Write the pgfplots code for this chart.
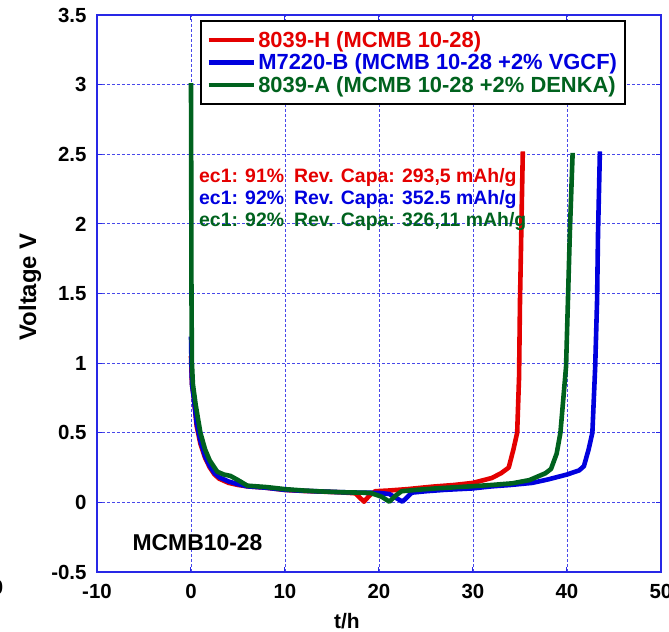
\documentclass[border=0pt]{standalone}
\usepackage{pgfplots}
\pgfplotsset{compat=1.18}
\usepackage{fontspec}
\setmainfont{Liberation Sans}
\definecolor{cred}{RGB}{228,0,0}
\definecolor{cblue}{RGB}{0,0,222}
\definecolor{cgreen}{RGB}{0,98,30}
\definecolor{gridblue}{RGB}{40,40,230}
\begin{document}
\begin{tikzpicture}
\begin{axis}[
  at={(0,0)}, anchor=south west,
  scale only axis, width=564bp, height=557bp,
  xmin=-10, xmax=50, ymin=-0.5, ymax=3.5,
  xtick={-10,0,...,50}, ytick={-0.5,0,...,3.5},
  grid=major,
  major grid style={gridblue!85, dash pattern=on 3bp off 2bp, line width=0.9bp},
  axis line style={gridblue, line width=1.6bp},
  tick style={gridblue, line width=1bp},
  major tick length=5bp,
  /pgf/number format/assume math mode=true,
  ticklabel style={font=\fontsize{20.5}{24}\selectfont\bfseries},
  yticklabel style={xshift=-7bp},
  xticklabel style={yshift=-9bp},
  xlabel={t/h}, ylabel={Voltage V},
  xlabel style={at={(axis description cs:0.443,-0.088)}, anchor=center, font=\fontsize{21}{24}\selectfont\bfseries},
  ylabel style={at={(axis description cs:-0.119,0.512)}, anchor=center, rotate=0, font=\fontsize{24}{28}\selectfont\bfseries},
  legend style={at={(axis description cs:0.183,0.991)}, anchor=north west, draw=black, line width=2bp,
     font=\fontsize{22}{26}\selectfont\bfseries, inner xsep=5bp, inner ysep=8bp,
     nodes={inner sep=2.5bp}},
  legend cell align=left,
  legend image code/.code={\draw[#1] (0bp,0bp) -- (45bp,0bp);},
]
\addplot[cred, line width=4.6bp, line join=round] coordinates {
(0,1.05)(0.05,0.95)(0.1,0.85)(0.3,0.75)(0.6,0.55)(1.0,0.42)(1.5,0.32)(2.0,0.25)(2.5,0.2)(3,0.17)(4,0.14)(5,0.125)(6,0.115)(8,0.105)(10,0.089)(12,0.082)(14,0.077)(16,0.072)(17.5,0.065)(18.4,0.005)(19.0,0.05)(19.6,0.08)(21,0.085)(23,0.095)(25.7,0.113)(28,0.125)(30,0.14)(32,0.175)(33,0.21)(33.8,0.25)(34.3,0.38)(34.7,0.5)(34.9,0.9)(35.0,1.45)(35.1,1.8)(35.2,2.17)(35.3,2.52)
};
\addlegendentry{\textcolor{cred}{8039-H (MCMB 10-28)}}
\addplot[cblue, line width=4.6bp, line join=round] coordinates {
(0,1.19)(0.05,1.0)(0.1,0.85)(0.3,0.75)(0.6,0.57)(1.0,0.44)(1.5,0.33)(2.0,0.26)(2.5,0.21)(3,0.18)(4,0.15)(5,0.13)(6,0.115)(8,0.105)(10,0.09)(12,0.083)(14,0.078)(16,0.073)(18,0.07)(20,0.068)(21.1,0.06)(22.5,0.005)(23.5,0.07)(25,0.08)(27,0.09)(29.9,0.1)(32,0.115)(34,0.125)(36.3,0.14)(38,0.165)(40,0.2)(41.3,0.23)(41.8,0.26)(42.3,0.38)(42.7,0.5)(43.0,0.975)(43.2,1.45)(43.3,1.93)(43.5,2.52)
};
\addlegendentry{\textcolor{cblue}{M7220-B (MCMB 10-28 +2\% VGCF)}}
\addplot[cgreen, line width=4.6bp, line join=round] coordinates {
(0,3.01)(0.02,2.5)(0.05,1.5)(0.1,1.0)(0.2,0.85)(0.5,0.7)(1.0,0.5)(1.5,0.38)(2.0,0.3)(2.8,0.22)(3.5,0.2)(4.2,0.19)(5,0.16)(6,0.12)(8,0.11)(10,0.095)(12,0.085)(14,0.078)(16,0.073)(18,0.07)(19.1,0.068)(20.3,0.04)(21.1,0.005)(21.8,0.05)(22.4,0.08)(24,0.09)(26,0.1)(29.2,0.113)(32,0.125)(34.2,0.137)(36,0.16)(37.7,0.209)(38.3,0.24)(38.9,0.35)(39.3,0.5)(39.9,0.975)(40.1,1.45)(40.3,1.93)(40.6,2.51)
};
\addlegendentry{\textcolor{cgreen}{8039-A (MCMB 10-28 +2\% DENKA)}}
\node[anchor=west, inner sep=0, text=cred, font=\fontsize{19.5}{22}\selectfont\bfseries] at (axis cs:0.85,2.33) {\makebox[95bp][l]{ec1: 91\%}Rev. Capa: 293,5 mAh/g};
\node[anchor=west, inner sep=0, text=cblue, font=\fontsize{19.5}{22}\selectfont\bfseries] at (axis cs:0.85,2.173) {\makebox[95bp][l]{ec1: 92\%}Rev. Capa: 352.5 mAh/g};
\node[anchor=west, inner sep=0, text=cgreen, font=\fontsize{19.5}{22}\selectfont\bfseries] at (axis cs:0.85,2.015) {\makebox[95bp][l]{ec1: 92\%}Rev. Capa: 326,11 mAh/g};
\node[anchor=center, inner sep=0, font=\fontsize{23}{26}\selectfont\bfseries] at (axis cs:0.69,-0.29) {MCMB10-28};
\end{axis}
\node[font=\fontsize{20.5}{24}\selectfont\bfseries] at (-99.5bp,-15bp) {0};
\pgfresetboundingbox
\useasboundingbox (-97bp,-60bp) rectangle (572bp,572bp);
\end{tikzpicture}
\end{document}
